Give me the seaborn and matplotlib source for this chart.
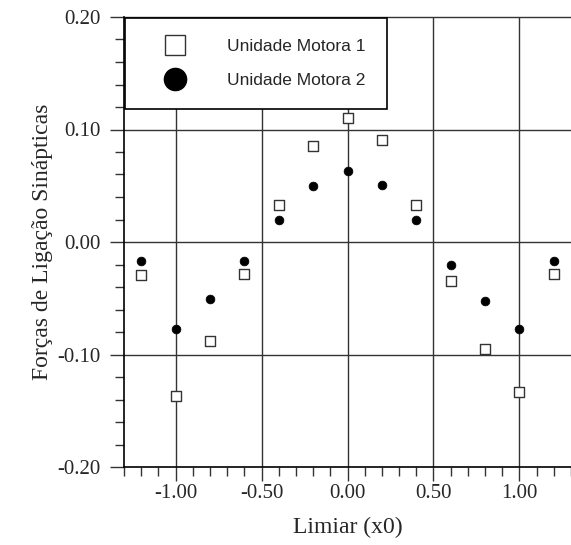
import matplotlib
matplotlib.use("Agg")
import matplotlib.pyplot as plt
import matplotlib.ticker as mticker
from matplotlib.lines import Line2D
import pandas as pd
import seaborn as sns

# Data
limiar = [-1.2, -1.0, -0.8, -0.6, -0.4, -0.2, 0.0, 0.2, 0.4, 0.6, 0.8, 1.0, 1.2]
motora1 = [-0.029, -0.137, -0.088, -0.028, 0.033, 0.085, 0.110, 0.091, 0.033, -0.035, -0.095, -0.133, -0.028]
motora2 = [-0.017, -0.077, -0.051, -0.017, 0.020, 0.050, 0.063, 0.051, 0.020, -0.020, -0.052, -0.077, -0.017]
series = ["Unidade Motora 1", "Unidade Motora 2"]

df = pd.DataFrame({
    "x": limiar * 2,
    "y": motora1 + motora2,
    "serie": [series[0]] * len(limiar) + [series[1]] * len(limiar),
})

sns.set_style("white")
plt.rcParams["font.family"] = ["Liberation Serif", "DejaVu Serif"]

fig = plt.figure(figsize=(5.71, 5.45), dpi=100)
ax = fig.add_axes([124 / 571, 1 - 467 / 545, 1 - 124 / 571, (467 - 17) / 545])

# grid under the points
for gx in [-1.0, -0.5, 0.0, 0.5, 1.0]:
    ax.axvline(gx, color="#333333", lw=1.0, zorder=0)
for gy in [-0.1, 0.0, 0.1, 0.2]:
    ax.axhline(gy, color="#333333", lw=1.0, zorder=0, clip_on=False)

sns.scatterplot(data=df[df.serie == series[0]], x="x", y="y", marker="s", s=55,
                facecolor="white", edgecolor="#333333", linewidth=1.0, ax=ax, zorder=3, legend=False)
sns.scatterplot(data=df[df.serie == series[1]], x="x", y="y", marker="o", s=40,
                color="black", edgecolor="black", ax=ax, zorder=3, legend=False)

ax.set_xlim(-1.3, 1.3)
ax.set_ylim(-0.2, 0.2)
ax.xaxis.set_major_locator(mticker.MultipleLocator(0.5))
ax.xaxis.set_minor_locator(mticker.MultipleLocator(0.1))
ax.yaxis.set_major_locator(mticker.MultipleLocator(0.1))
ax.yaxis.set_minor_locator(mticker.MultipleLocator(0.02))
ax.xaxis.set_major_formatter(mticker.FormatStrFormatter("%.2f"))
ax.yaxis.set_major_formatter(mticker.FormatStrFormatter("%.2f"))
ax.tick_params(which="major", direction="out", length=10, width=1, labelsize=15, color="#333333",
               bottom=True, left=True)
ax.tick_params(which="minor", direction="out", length=6.5, width=1, color="#333333", bottom=True, left=True)
ax.tick_params(axis="x", which="major", pad=2)
ax.tick_params(axis="y", which="major", pad=7)

for s in ["top", "right"]:
    ax.spines[s].set_visible(False)
for s in ["left", "bottom"]:
    ax.spines[s].set_color("black")
    ax.spines[s].set_linewidth(1.2)

ax.set_xlabel("Limiar (x0)", fontsize=17, labelpad=10)
ax.set_ylabel("Forças de Ligação Sinápticas", fontsize=17, labelpad=3)

handles = [
    Line2D([], [], marker="s", markersize=15, markerfacecolor="white", markeredgecolor="#333333",
           markeredgewidth=1.0, linestyle="none"),
    Line2D([], [], marker="o", markersize=16, markerfacecolor="black", markeredgecolor="black",
           linestyle="none"),
]
leg = ax.legend(handles, series, loc="upper left", bbox_to_anchor=(0.002, 0.998),
                frameon=True, fancybox=False, edgecolor="black", framealpha=1,
                prop={"family": ["Liberation Sans", "DejaVu Sans"], "size": 12.5},
                borderpad=1.2, labelspacing=1.1, handletextpad=1.3, borderaxespad=0,
                handlelength=3.4)
leg.get_frame().set_linewidth(1.2)
leg.set_zorder(5)

fig.savefig("out.png", dpi=100)
